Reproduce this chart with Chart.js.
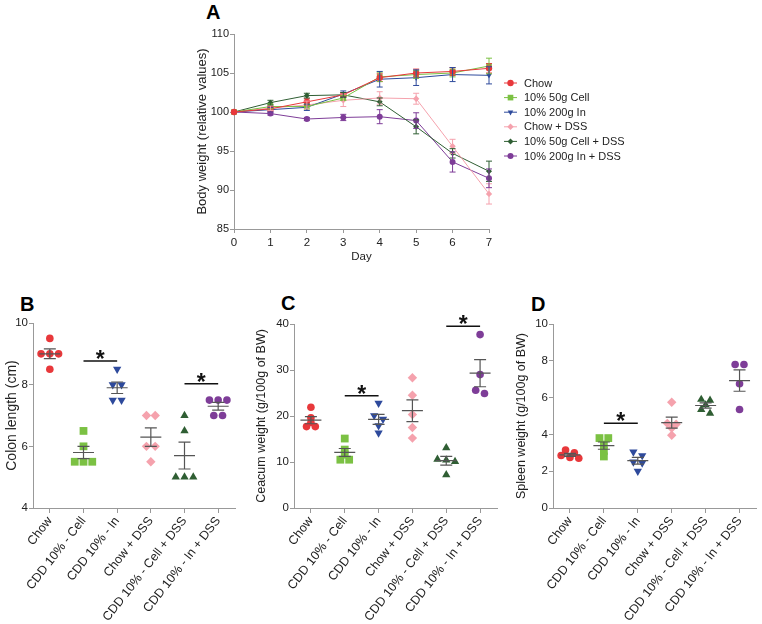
<!DOCTYPE html>
<html><head><meta charset="utf-8">
<script src="https://cdn.jsdelivr.net/npm/chart.js@4.4.1/dist/chart.umd.min.js"></script>
<style>
body{margin:0;width:762px;height:624px;background:#fff;position:relative;overflow:hidden;font-family:"Liberation Sans",Arial,sans-serif}
canvas{position:absolute}
.lab{position:absolute;font:bold 20px "Liberation Sans",Arial,sans-serif;color:#000;line-height:23px}
</style></head><body>
<div class="lab" style="left:206px;top:1px">A</div>
<div class="lab" style="left:20px;top:293px">B</div>
<div class="lab" style="left:281px;top:292px">C</div>
<div class="lab" style="left:531px;top:293px">D</div>
<canvas id="cA" width="572" height="264" style="left:190px;top:0px"></canvas>
<canvas id="cB" width="250" height="334" style="left:0px;top:290px"></canvas>
<canvas id="cC" width="255" height="334" style="left:250px;top:290px"></canvas>
<canvas id="cD" width="252" height="334" style="left:510px;top:290px"></canvas>
<script>
// ---------- Panel A data ----------
const days = [0,1,2,3,4,5,6,7];
const seriesNames = ["Chow","10% 50g Cell","10% 200g In","Chow + DSS","10% 50g Cell + DSS","10% 200g In + DSS"];
const bwChow      = [100,100.4,101.3,102.2,104.4,105.0,105.2,105.6];
const bwCell      = [100,100.7,100.7,101.8,104.5,104.8,105.0,105.9];
const bwIn        = [100,100.3,100.6,102.3,104.2,104.4,104.8,104.7];
const bwChowDSS   = [100,100.5,100.9,101.5,101.8,101.7,95.6,89.5];
const bwCellDSS   = [100,101.2,102.1,102.2,101.3,98.1,94.7,92.4];
const bwInDSS     = [100,99.8,99.1,99.3,99.4,98.9,93.6,91.5];
const semChow     = [0,0.3,0.4,0.3,0.5,0.5,0.5,0.6];
const semCell     = [0,0.3,0.3,0.3,0.6,0.5,0.5,1.0];
const semIn       = [0,0.3,0.4,0.4,1.0,1.0,0.9,1.1];
const semChowDSS  = [0,0.3,0.5,0.8,0.8,0.7,0.9,1.3];
const semCellDSS  = [0,0.3,0.3,0.3,0.5,0.9,0.6,1.3];
const semInDSS    = [0,0.2,0.2,0.4,0.9,1.0,1.3,1.2];
const bwTicks = [85,90,95,100,105,110];

// ---------- Panels B-D data ----------
const catLabels = ["Chow","CDD 10% - Cell","CDD 10% - In","Chow + DSS","CDD 10% - Cell + DSS","CDD 10% - In + DSS"];
const colonChow    = [9.5,9.0,9.0,9.0,8.5];
const colonCell    = [6.5,6.0,5.5,5.5,5.5];
const colonIn      = [8.5,8.0,8.0,7.5,7.5];
const colonChowDSS = [7.0,7.0,6.0,6.0,5.5];
const colonCellDSS = [7.0,6.5,5.0,5.0,5.0];
const colonInDSS   = [7.5,7.5,7.5,7.0,7.0];
const caecChow     = [21.9,19.6,18.6,17.7,17.7];
const caecCell     = [15.1,12.7,11.6,10.5,10.5];
const caecIn       = [22.8,20.1,19.3,17.9,16.3];
const caecChowDSS  = [28.3,24.5,20.3,17.5,15.2];
const caecCellDSS  = [13.1,10.6,10.4,10.1,7.2];
const caecInDSS    = [37.7,29.0,25.6,24.9];
const splChow      = [3.15,3.0,2.85,2.75,2.7];
const splCell      = [3.8,3.8,3.45,3.1,2.8];
const splIn        = [3.05,2.85,2.5,2.45,2.0];
const splChowDSS   = [5.75,4.6,4.55,4.35,3.95];
const splCellDSS   = [5.9,5.85,5.6,5.35,5.15];
const splInDSS     = [7.8,7.8,6.75,5.35];
// significance comparisons: [groupA, groupB, bracket level]
const sigColon = [[1,2,8.77],[4,5,8.03]];
const sigCaec  = [[1,2,24.4],[4,5,39.5]];
const sigSpl   = [[1,2,4.6]];

// ---------- styles ----------
const FF = '"Liberation Sans", Arial, sans-serif';
Chart.defaults.font.family = FF;
const colors = ['#e8383b','#7bc143','#2e4a9c','#f5a2ad','#2f5e33','#7e3d98'];
const styles = [
  {s:'circle',r:0,size:3.8},{s:'rect',r:0,size:5.5},{s:'triangle',r:180,size:4.8},
  {s:'rectRot',r:0,size:4.7},{s:'triangle',r:0,size:4.8},{s:'circle',r:0,size:3.8}
];
const stylesA = [
  {s:'circle',r:0,size:3.2},{s:'rect',r:0,size:4.0},{s:'triangle',r:180,size:3.2},
  {s:'rectRot',r:0,size:3.2},{s:'rectRot',r:0,size:3.0},{s:'circle',r:0,size:3.0}
];
const axisGrey = '#999';

function drawMarker(ctx, style, rot, r, x, y){
  ctx.save(); ctx.translate(x,y); ctx.rotate(rot*Math.PI/180); ctx.beginPath();
  if(style==='circle'){ctx.arc(0,0,r,0,Math.PI*2);}
  else if(style==='rect'){const h=r*Math.SQRT1_2;ctx.rect(-h,-h,2*h,2*h);}
  else if(style==='rectRot'){ctx.moveTo(0,-r);ctx.lineTo(r,0);ctx.lineTo(0,r);ctx.lineTo(-r,0);ctx.closePath();}
  else if(style==='triangle'){ctx.moveTo(0,-r);ctx.lineTo(r*0.866,r*0.5);ctx.lineTo(-r*0.866,r*0.5);ctx.closePath();}
  ctx.fill(); ctx.restore();
}

// ---------- plugins ----------
const errPlugin = {id:'errbars', afterDatasetsDraw(chart){
  const {ctx, scales:{x,y}} = chart;
  chart.data.datasets.forEach(ds=>{
    if(!ds.sem) return;
    ctx.save(); ctx.strokeStyle = ds.borderColor; ctx.lineWidth = 1;
    ds.data.forEach((p,j)=>{
      const s = ds.sem[j]; if(!s) return;
      const px = x.getPixelForValue(p.x), y1 = y.getPixelForValue(p.y+s), y2 = y.getPixelForValue(p.y-s);
      ctx.beginPath();
      ctx.moveTo(px,y1); ctx.lineTo(px,y2);
      ctx.moveTo(px-3,y1); ctx.lineTo(px+3,y1);
      ctx.moveTo(px-3,y2); ctx.lineTo(px+3,y2);
      ctx.stroke();
    });
    ctx.restore();
  });
}};
const legendPlugin = {id:'customLegend', afterDraw(chart, args, o){
  if(!o || !o.show) return;
  const ctx = chart.ctx;
  ctx.save(); ctx.font = o.font; ctx.textBaseline = 'middle'; ctx.textAlign='left';
  chart.data.datasets.forEach((ds,i)=>{
    const yy = o.y + i*o.dy;
    ctx.strokeStyle = ds.borderColor; ctx.fillStyle = ds.borderColor; ctx.lineWidth = 1;
    ctx.beginPath(); ctx.moveTo(o.x,yy); ctx.lineTo(o.x+13,yy); ctx.stroke();
    drawMarker(ctx, ds.pointStyle, ds.pointRotation||0, ds.pointRadius, o.x+6.5, yy);
    ctx.fillStyle = '#222'; ctx.fillText(ds.label, o.x+20, yy+0.5);
  });
  ctx.restore();
}};
const meanSemPlugin = {id:'meanSem', afterDatasetsDraw(chart){
  const {ctx, scales:{x,y}} = chart;
  chart.data.datasets.forEach((ds,gi)=>{
    const v = ds.raw; if(!v) return;
    const n = v.length, m = v.reduce((a,b)=>a+b,0)/n;
    const sd = Math.sqrt(v.reduce((a,b)=>a+(b-m)*(b-m),0)/(n-1));
    const se = sd/Math.sqrt(n);
    const px = x.getPixelForValue(gi), pm = y.getPixelForValue(m);
    const p1 = y.getPixelForValue(m+se), p2 = y.getPixelForValue(m-se);
    ctx.save(); ctx.strokeStyle = '#555'; ctx.lineWidth = 1.2;
    ctx.beginPath();
    ctx.moveTo(px-10.5,pm); ctx.lineTo(px+10.5,pm);
    ctx.moveTo(px,p1); ctx.lineTo(px,p2);
    ctx.moveTo(px-6,p1); ctx.lineTo(px+6,p1);
    ctx.moveTo(px-6,p2); ctx.lineTo(px+6,p2);
    ctx.stroke(); ctx.restore();
  });
}};
const sigPlugin = {id:'sig', afterDraw(chart, args, o){
  if(!o || !o.items) return;
  const {ctx, scales:{x,y}} = chart;
  ctx.save();
  o.items.forEach(([a,b,lvl])=>{
    const xa = x.getPixelForValue(a), xb = x.getPixelForValue(b), yy = y.getPixelForValue(lvl);
    ctx.strokeStyle = '#111'; ctx.lineWidth = 1.5;
    ctx.beginPath(); ctx.moveTo(xa,yy); ctx.lineTo(xb,yy); ctx.stroke();
    ctx.fillStyle = '#111'; ctx.font = 'bold 23px '+FF; ctx.textAlign='center'; ctx.textBaseline='alphabetic';
    ctx.fillText('*', (xa+xb)/2, yy+6);
  });
  ctx.restore();
}};

function axisCommon(){
  return {grid:{drawOnChartArea:false, drawTicks:true, tickLength:4, color:axisGrey},
          border:{color:axisGrey, width:1}};
}

// ---------- Panel A ----------
const bwSeries = [bwChow,bwCell,bwIn,bwChowDSS,bwCellDSS,bwInDSS];
const bwSem = [semChow,semCell,semIn,semChowDSS,semCellDSS,semInDSS];
new Chart(document.getElementById('cA'), {
  type:'line',
  data:{datasets: bwSeries.map((vals,i)=>({
    label: seriesNames[i],
    data: days.map((d,j)=>({x:d, y:vals[j]})),
    sem: bwSem[i],
    borderColor: colors[i], backgroundColor: colors[i],
    borderWidth: 1, pointStyle: stylesA[i].s, pointRotation: stylesA[i].r,
    pointRadius: stylesA[i].size, pointBorderWidth: 0, tension: 0, clip: false
  }))},
  options:{
    responsive:false, animation:false, events:[],
    layout:{padding:{top:34, right:273, left:0, bottom:0}},
    plugins:{legend:{display:false}, tooltip:{enabled:false},
      customLegend:{show:true, x:314, y:83, dy:14.6, font:'11px '+FF}},
    scales:{
      x:Object.assign(axisCommon(), {type:'linear', min:0, max:7,
        ticks:{stepSize:1, color:'#222', font:{size:11.5}, padding:3},
        title:{display:true, text:'Day', color:'#222', font:{size:11.5}, padding:{top:0,bottom:0}},
        afterFit:s=>{s.height=35;}}),
      y:Object.assign(axisCommon(), {min:85, max:110,
        afterBuildTicks:s=>{s.ticks = bwTicks.map(v=>({value:v}));},
        ticks:{color:'#222', font:{size:11}, padding:1},
        title:{display:true, text:'Body weight (relative values)', color:'#222', font:{size:13}, padding:{top:5,bottom:2}},
        afterFit:s=>{s.width=44;}})
    }
  },
  plugins:[errPlugin, legendPlugin]
});

// ---------- Panels B-D ----------
function dotChart(id, groups, yMin, yMax, yStep, yTitle, titleSize, yWidth, padTop, padRight, sig){
  const range = yMax - yMin;
  const datasets = groups.map((vals,gi)=>{
    const sorted = [...vals].sort((a,b)=>b-a);
    const pts = []; let row = [];
    const flush = ()=>{ row.forEach((v,k)=>pts.push({x: gi + (k-(row.length-1)/2)*0.26, y: v})); row = []; };
    sorted.forEach(v=>{ if(row.length && Math.abs(row[0]-v) > 0.021*range) flush(); row.push(v); });
    flush();
    return {label: catLabels[gi], data: pts, raw: vals,
      backgroundColor: colors[gi], borderColor: colors[gi], borderWidth: 0,
      pointStyle: styles[gi].s, pointRotation: styles[gi].r, pointRadius: styles[gi].size,
      pointBorderWidth: 0, clip: false};
  });
  const yTicks = [];
  for(let v=yMin; v<=yMax+1e-9; v+=yStep) yTicks.push(v);
  return new Chart(document.getElementById(id), {
    type:'scatter',
    data:{datasets},
    options:{
      responsive:false, animation:false, events:[],
      layout:{padding:{top:padTop, right:padRight, left:0, bottom:0}},
      plugins:{legend:{display:false}, tooltip:{enabled:false}, sig:{items:sig}},
      scales:{
        x:Object.assign(axisCommon(), {type:'linear', min:-0.5, max:5.5,
          afterBuildTicks:s=>{s.ticks = catLabels.map((c,i)=>({value:i}));},
          ticks:{autoSkip:false, minRotation:52, maxRotation:52, color:'#222', font:{size:12.5}, padding:1,
                 callback:(v)=>catLabels[v]},
          grid:{drawOnChartArea:false, drawTicks:true, tickLength:5, color:axisGrey},
          afterFit:s=>{s.height=116;}}),
        y:Object.assign(axisCommon(), {min:yMin, max:yMax,
          afterBuildTicks:s=>{s.ticks = yTicks.map(v=>({value:v}));},
          ticks:{color:'#222', font:{size:11.5}, padding:1},
          title:{display:true, text:yTitle, color:'#222', font:{size:titleSize}, padding:{top:4,bottom:2}},
          afterFit:s=>{s.width=yWidth;}})
      }
    },
    plugins:[meanSemPlugin, sigPlugin]
  });
}

dotChart('cB', [colonChow,colonCell,colonIn,colonChowDSS,colonCellDSS,colonInDSS], 4, 10, 2,
  'Colon length (cm)', 14, 33, 33, 15, sigColon);
dotChart('cC', [caecChow,caecCell,caecIn,caecChowDSS,caecCellDSS,caecInDSS], 0, 40, 10,
  'Ceacum weight (g/100g of BW)', 12.5, 44, 34, 8, sigCaec);
dotChart('cD', [splChow,splCell,splIn,splChowDSS,splCellDSS,splInDSS], 0, 10, 2,
  'Spleen weight (g/100g of BW)', 12.5, 43, 34, 5, sigSpl);
</script>
</body></html>
